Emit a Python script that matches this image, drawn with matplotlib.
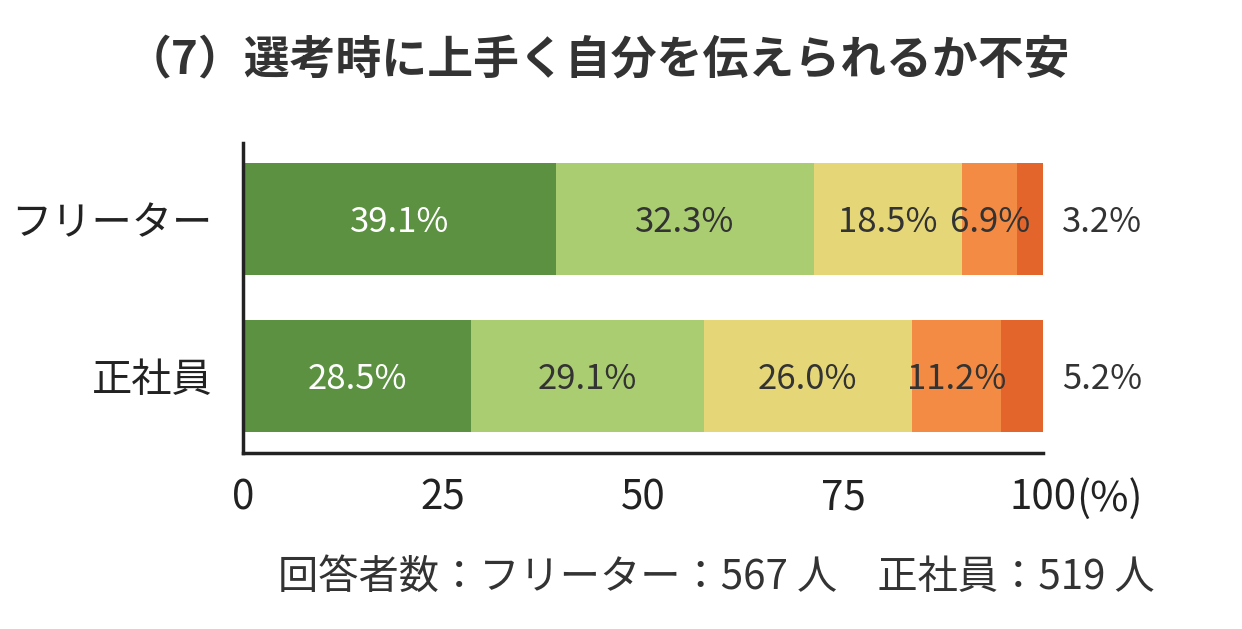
import matplotlib.pyplot as plt
import numpy as np

plt.rcParams['font.family'] = ['Noto Sans CJK JP', 'DejaVu Sans']

title = '（7）選考時に上手く自分を伝えられるか不安'
groups = ['フリーター', '正社員']
freeter = [39.1, 32.3, 18.5, 6.9, 3.2]
seishain = [28.5, 29.1, 26.0, 11.2, 5.2]
note = '回答者数：フリーター：567 人　正社員：519 人'

colors = ['#5b9141', '#abcd72', '#e5d778', '#f38b44', '#e3652b']
text_colors = ['white', '#333333', '#333333', '#333333', '#333333']

fig = plt.figure(figsize=(12.42, 6.29), dpi=100)
ax = fig.add_axes([243 / 1242, 1 - 453 / 629, 800 / 1242, 310 / 629])

ypos = [1, 0]
for y, vals in zip(ypos, [freeter, seishain]):
    left = 0
    for i, v in enumerate(vals):
        ax.barh(y, v, left=left, height=0.713, color=colors[i])
        if i < 4:
            ax.text(left + v / 2, y - 0.02, f'{v:.1f}%', ha='center', va='center',
                    fontsize=25, color=text_colors[i])
        else:
            # last small segment labelled outside the bar
            ax.text(107.4, y - 0.02, f'{v:.1f}%', ha='center', va='center',
                    fontsize=25, color='#333333')
        left += v

ax.set_xlim(0, 100)
ax.set_ylim(-0.49, 1.484)
ax.set_yticks(ypos)
ax.set_yticklabels(groups, fontsize=29, color='#222222')
ax.set_xticks([0, 25, 50, 75, 100])
ax.set_xticklabels(['0', '25', '50', '75', '100'], fontsize=29, color='#222222')
ax.tick_params(length=0, axis='x', pad=18)
ax.tick_params(length=0, axis='y', pad=22)
ax.annotate('(%)', xy=(100, 0), xycoords=('data', 'axes fraction'),
            xytext=(24, -18), textcoords='offset points', ha='left', va='top',
            fontsize=30, color='#222222')
for s in ['top', 'right']:
    ax.spines[s].set_visible(False)
for s in ['left', 'bottom']:
    ax.spines[s].set_linewidth(2.5)
    ax.spines[s].set_color('#222222')

fig.text(598 / 1242, 1 - 60 / 629, title, ha='center', va='center',
         fontsize=33, fontweight='bold', color='#333333')
fig.text(716 / 1242, 1 - 577 / 629, note, ha='center', va='center',
         fontsize=29, color='#333333')

fig.savefig('out.png', dpi=100)
